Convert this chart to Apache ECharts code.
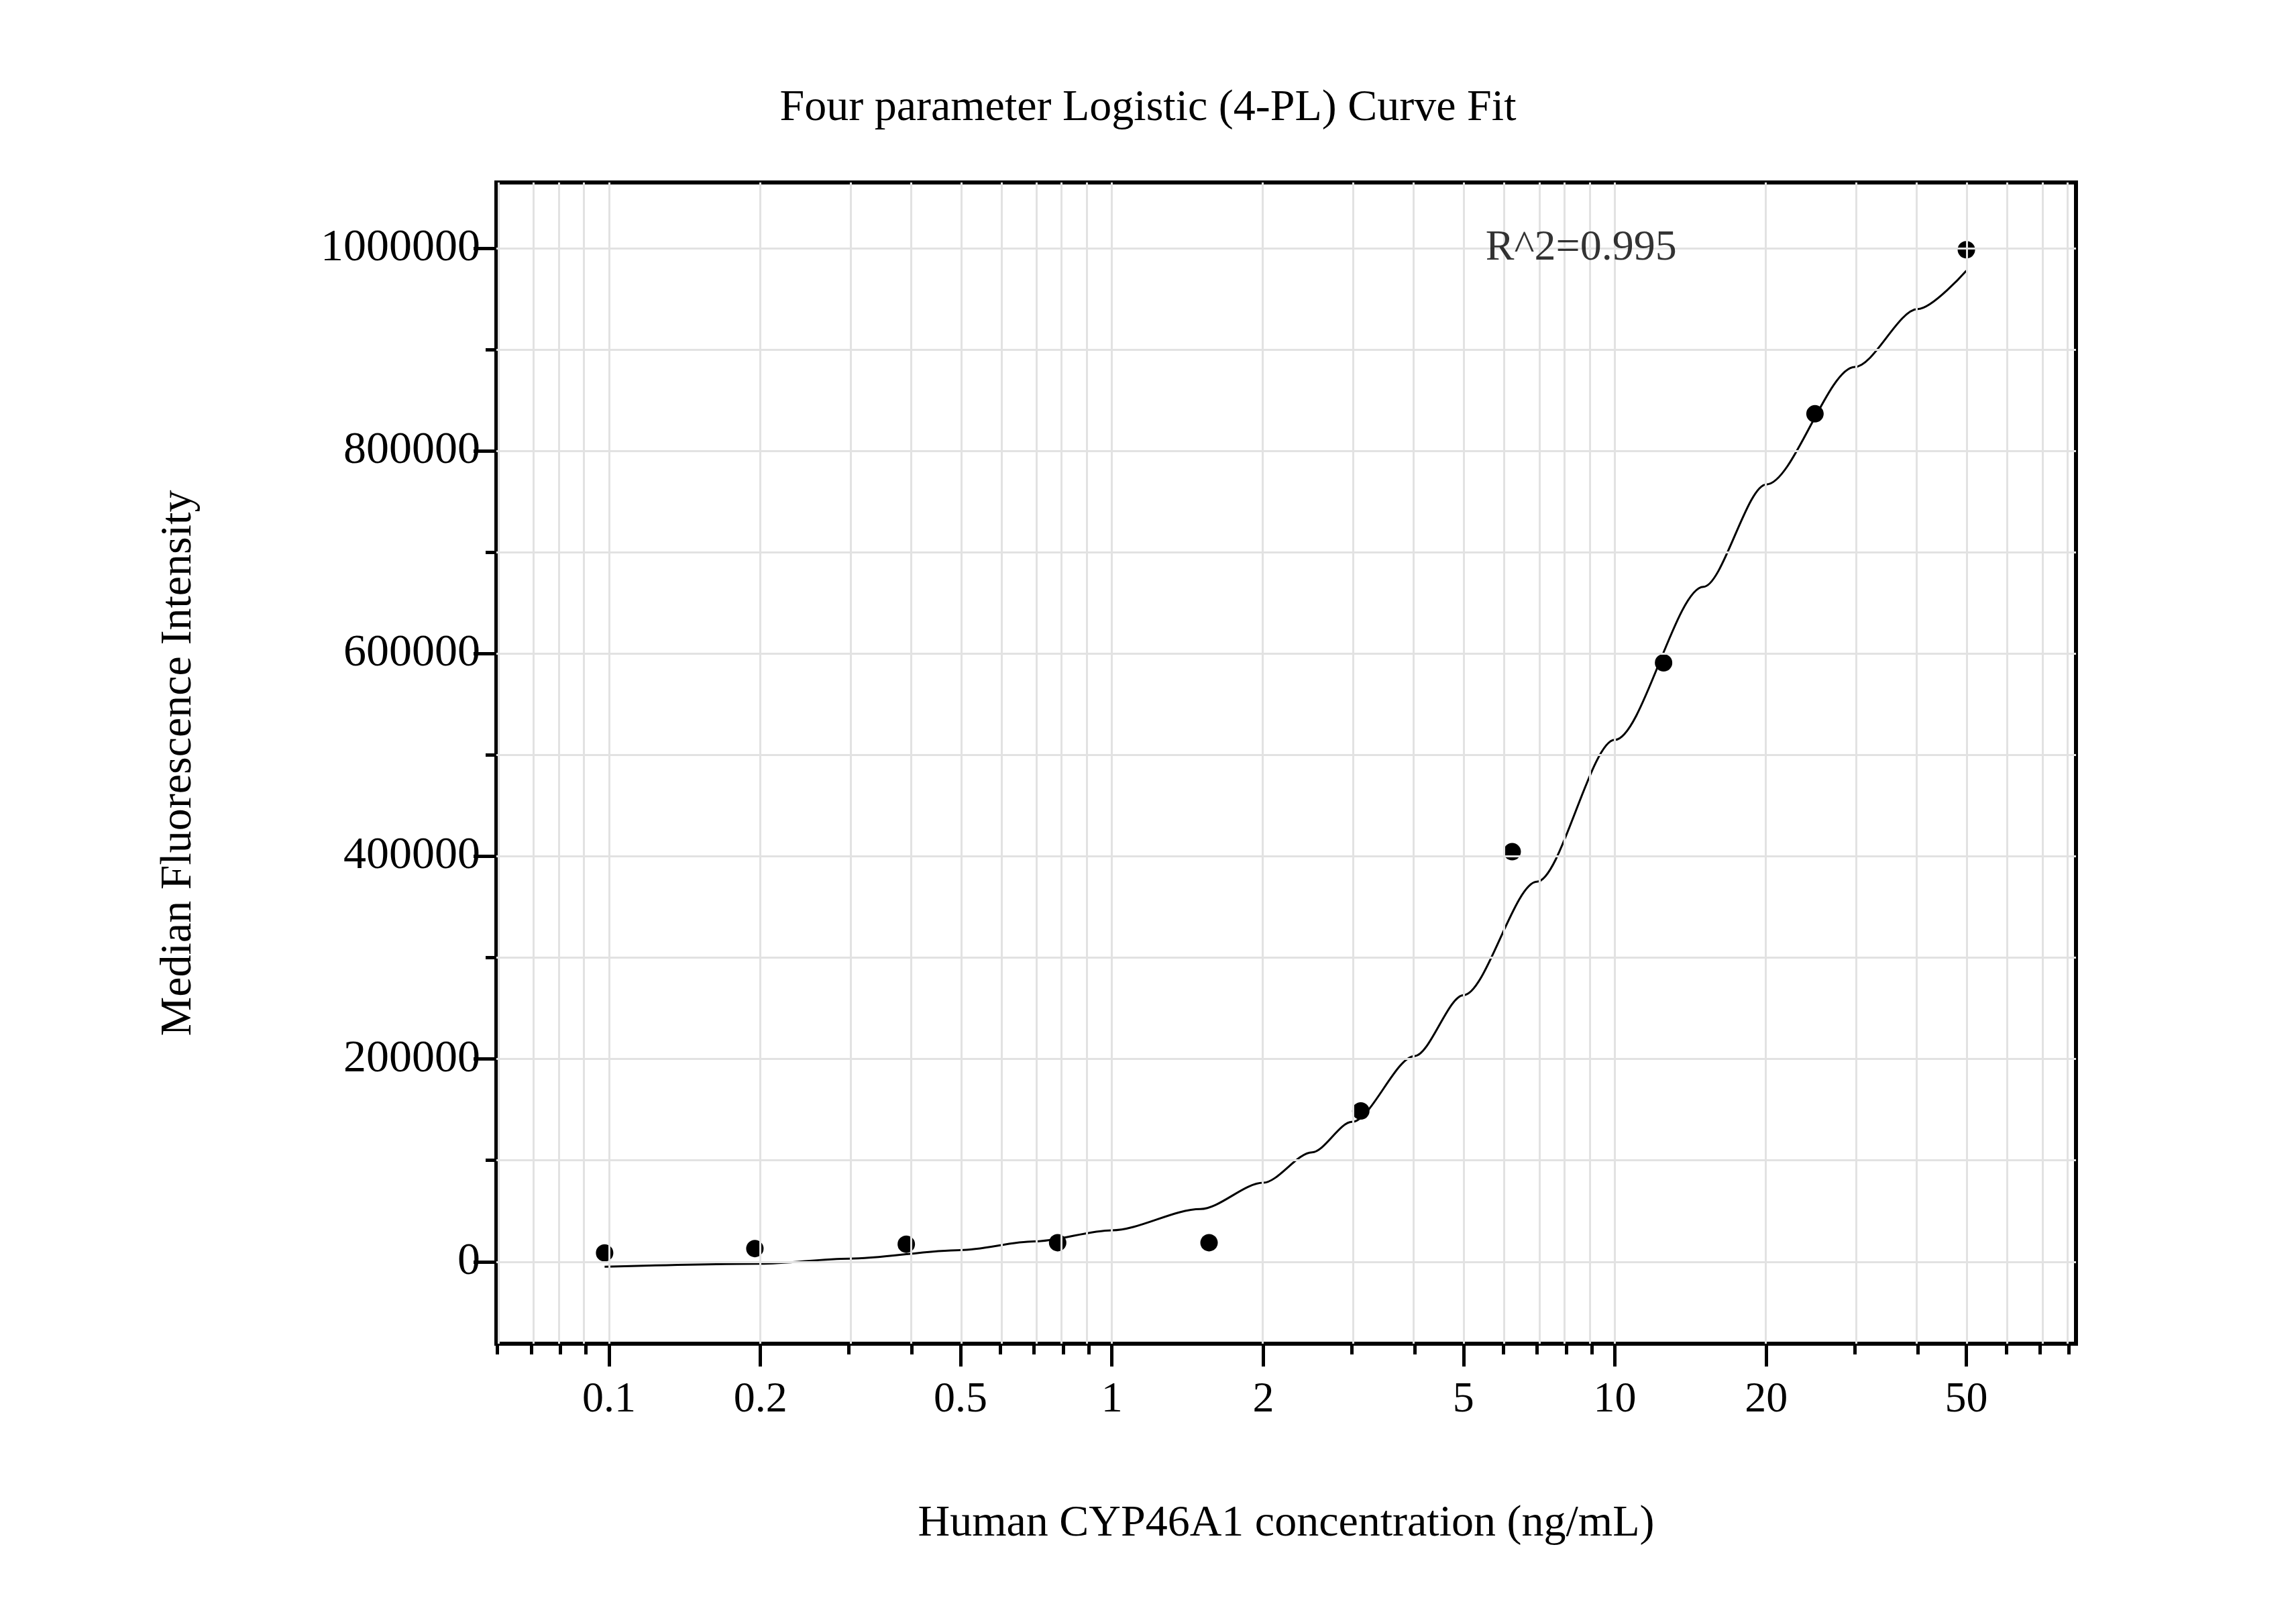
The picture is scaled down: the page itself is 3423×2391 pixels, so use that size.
<!DOCTYPE html>
<html>
<head>
<meta charset="utf-8">
<script src="https://cdn.jsdelivr.net/npm/echarts@6/dist/echarts.min.js"></script>
<style>html,body{margin:0;padding:0;background:#fff}#chart{width:3423px;height:2391px}</style>
</head>
<body>
<div id="chart"></div>
<script>
// 测量点 (ng/mL, MFI)
var conc = [0.098, 0.195, 0.39, 0.78, 1.56, 3.125, 6.25, 12.5, 25, 50];
var mfi = [8700, 13000, 17300, 18800, 18800, 148800, 404600, 591000, 836700, 998600];
// 拟合曲线，从图上读出的点
var curveX = [0.098, 0.2, 0.3, 0.5, 0.7, 1, 1.5, 2, 2.5, 3, 4, 5, 7, 10, 15, 20, 30, 40, 50];
var curveY = [-5000, -2000, 3000, 11500, 20000, 31000, 52000, 78000, 108000, 138000, 203000, 263000, 375000, 515000, 666000, 767000, 883000, 940000, 978000];
var xMajor = [0.1, 0.2, 0.5, 1, 2, 5, 10, 20, 50];
var xMinor = [0.06, 0.07, 0.08, 0.09, 0.3, 0.4, 0.6, 0.7, 0.8, 0.9, 3, 4, 6, 7, 8, 9, 30, 40, 60, 70, 80];
var yMajor = [0, 200000, 400000, 600000, 800000, 1000000];
var yMinor = [100000, 300000, 500000, 700000, 900000];

var lg = function (v) { return Math.log10(v); };
var xAll = xMajor.concat(xMinor).map(lg);
var yAll = yMajor.concat(yMinor);
var font = '"Liberation Serif", "Times New Roman", serif';

var chart = echarts.init(document.getElementById('chart'));
var xMin = lg(0.0597), xMax = lg(82.6);
var yMin = -80900, yMax = 1065000;

var option = {
    backgroundColor: '#fff',
    animation: false,
    title: {
        text: 'Four parameter Logistic (4-PL) Curve Fit',
        left: 'center', top: 124,
        textStyle: {fontFamily: font, fontSize: 66, fontWeight: 'normal', color: '#000'}
    },
    grid: {left: 740, right: 3423 - 3095, top: 272, bottom: 2391 - 2003,
        show: true, borderColor: '#000', borderWidth: 6, containLabel: false},
    xAxis: [{
        type: 'value', min: xMin, max: xMax,
        axisLine: {show: true, onZero: false, lineStyle: {color: '#000', width: 6}},
        axisTick: {show: true, length: 34, lineStyle: {width: 5, color: '#000'}, customValues: xMajor.map(lg)},
        axisLabel: {
            customValues: xMajor.map(lg), margin: 52,
            fontFamily: font, fontSize: 64, color: '#000',
            formatter: function (v) { return String(Number(Math.pow(10, v).toPrecision(2))); }
        },
        splitLine: {show: false},
        name: 'Human CYP46A1 concentration (ng/mL)', nameLocation: 'middle', nameGap: 236,
        nameTextStyle: {fontFamily: font, fontSize: 66, color: '#000'}
    }, {
        type: 'value', min: xMin, max: xMax, position: 'bottom',
        axisLine: {show: false, onZero: false},
        axisTick: {show: true, length: 16, lineStyle: {width: 5, color: '#000'}, customValues: xMinor.map(lg)},
        axisLabel: {show: false},
        splitLine: {show: false}
    }],
    yAxis: [{
        type: 'value', min: yMin, max: yMax,
        axisLine: {show: true, onZero: false, lineStyle: {color: '#000', width: 6}},
        axisTick: {show: true, length: 34, lineStyle: {width: 5, color: '#000'}, customValues: yMajor},
        axisLabel: {customValues: yMajor, margin: 24, fontFamily: font, fontSize: 68, color: '#000',
            formatter: function (v) { return String(v); }},
        splitLine: {show: false},
        name: 'Median Fluorescence Intensity', nameLocation: 'middle', nameGap: 440,
        nameTextStyle: {fontFamily: font, fontSize: 66, color: '#000'}
    }, {
        type: 'value', min: yMin, max: yMax, position: 'left',
        axisLine: {show: false, onZero: false},
        axisTick: {show: true, length: 16, lineStyle: {width: 5, color: '#000'}, customValues: yMinor},
        axisLabel: {show: false},
        splitLine: {show: false}
    }],
    series: [{
        // 网格线
        type: 'line', data: [], silent: true,
        markLine: {
            silent: true, symbol: 'none', label: {show: false},
            lineStyle: {color: '#e2e2e2', width: 3, type: 'solid'},
            data: xAll.map(function (v) { return {xAxis: v}; })
                .concat(yAll.map(function (v) { return {yAxis: v}; }))
        }
    }, {
        type: 'line', smooth: 0.3, smoothMonotone: 'x', showSymbol: false, z: 3,
        lineStyle: {color: '#000', width: 3},
        data: curveX.map(function (x, i) { return [lg(x), curveY[i]]; })
    }, {
        type: 'scatter', symbolSize: 26, z: 4,
        itemStyle: {color: '#000', opacity: 1},
        data: conc.map(function (x, i) { return [lg(x), mfi[i]]; })
    }, {
        type: 'scatter', symbolSize: 0, z: 5,
        label: {show: true, position: 'inside', formatter: 'R^2=0.995',
            fontFamily: font, fontSize: 64, color: '#000'},
        data: [[lg(8.57), 1000000]]
    }]
};
chart.setOption(option);
</script>
</body>
</html>
